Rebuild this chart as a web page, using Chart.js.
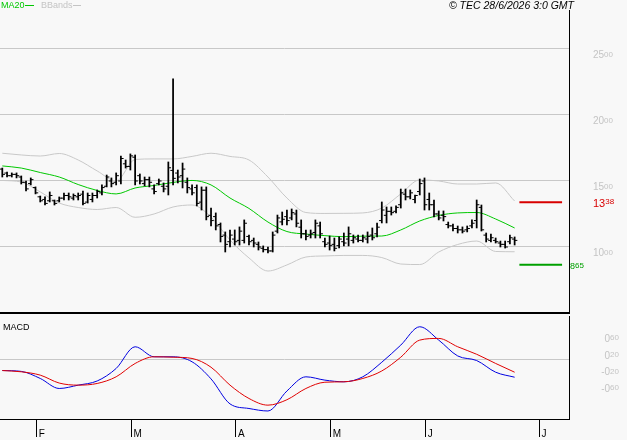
<!DOCTYPE html>
<html>
<head>
<meta charset="utf-8">
<title>TEC chart</title>
<script src="https://cdn.jsdelivr.net/npm/chart.js@4.4.1/dist/chart.umd.min.js"></script>
<style>
  html, body { margin: 0; padding: 0; background: #f8f8f8; }
  #wrap { position: relative; width: 627px; height: 440px; overflow: hidden; }
  #priceChart { position: absolute; left: 0; top: 0; }
  #macdChart { position: absolute; left: 0; top: 316px; }
</style>
</head>
<body>
<div id="wrap">
  <canvas id="priceChart" width="627" height="316"></canvas>
  <canvas id="macdChart" width="627" height="124"></canvas>
</div>
<script>
// daily bars, one per trading day (index 0 = first bar shown)
const opens = [
  15.9, 15.6, 15.4, 15.5, 15.3, 14.9, 14.8, 14.5, 13.8, 13.6,
  13.5, 13.5, 13.5, 13.7, 13.9, 13.7, 13.8, 14.0, 13.4, 13.6,
  13.9, 14.1, 14.6, 15.0, 14.9, 15.0, 16.3, 16.1, 16.8, 15.4,
  14.8, 15.1, 14.4, 14.8, 14.6, 14.6, 15.8, 15.6, 15.4, 14.9,
  14.4, 14.5, 13.4, 14.3, 12.4, 12.3, 11.7, 10.9, 10.4, 10.6,
  10.5, 10.5, 10.8, 10.5, 10.2, 9.9, 9.8, 9.7, 11.2, 11.9,
  12.3, 12.2, 12.5, 11.5, 11.0, 10.9, 11.1, 11.6, 10.4, 10.3,
  10.2, 10.1, 10.4, 10.6, 10.5, 10.6, 10.5, 10.6, 10.9, 11.0,
  12.0, 12.4, 12.7, 12.7, 13.2, 14.0, 13.8, 13.6, 14.2, 15.0,
  13.6, 13.2, 12.5, 12.4, 11.7, 11.6, 11.4, 11.3, 11.3, 11.6,
  12.0, 13.0, 10.9, 10.5, 10.5, 10.3, 10.2, 10.4, 10.6
];
const highs = [
  15.98, 15.68, 15.61, 15.61, 15.38, 15.00, 15.23, 14.55, 13.86, 13.79,
  14.17, 13.56, 13.79, 14.09, 14.09, 14.02, 14.09, 14.24, 14.09, 14.09,
  14.32, 14.70, 15.45, 15.23, 15.61, 16.89, 16.59, 17.05, 16.97, 15.53,
  15.30, 15.30, 14.70, 15.15, 14.85, 16.44, 22.73, 15.83, 16.36, 15.23,
  14.70, 14.70, 14.55, 14.55, 12.95, 12.58, 11.82, 11.14, 11.29, 11.29,
  11.52, 12.05, 10.91, 10.68, 10.38, 10.08, 10.00, 11.14, 12.42, 12.65,
  12.80, 12.88, 12.80, 12.05, 11.29, 11.29, 12.05, 11.89, 10.68, 10.83,
  10.68, 10.76, 11.06, 11.52, 10.91, 10.91, 10.91, 11.14, 11.44, 11.82,
  13.41, 13.03, 13.03, 13.11, 14.39, 14.39, 14.32, 13.94, 15.15, 15.23,
  14.09, 13.56, 12.73, 12.73, 11.89, 11.74, 11.59, 11.52, 11.59, 12.05,
  13.56, 13.18, 11.06, 10.98, 10.68, 10.45, 10.45, 10.91, 10.76
];
const lows = [
  15.30, 15.30, 15.30, 15.23, 14.77, 14.24, 14.70, 14.02, 13.41, 13.18,
  13.41, 13.18, 13.41, 13.56, 13.56, 13.56, 13.56, 13.18, 13.33, 13.41,
  13.71, 13.94, 14.55, 14.55, 14.70, 14.77, 15.98, 15.83, 14.70, 14.77,
  14.62, 14.55, 14.02, 14.70, 14.17, 13.94, 14.70, 14.85, 14.47, 14.09,
  13.94, 13.11, 12.80, 12.05, 11.59, 11.29, 10.38, 9.62, 10.00, 10.15,
  10.15, 10.30, 10.15, 10.00, 9.77, 9.62, 9.55, 9.62, 11.06, 11.67,
  11.67, 12.05, 11.52, 10.68, 10.53, 10.68, 10.68, 10.68, 10.00, 9.77,
  9.70, 9.92, 10.08, 10.08, 10.30, 10.38, 10.38, 10.30, 10.53, 10.76,
  11.82, 11.82, 12.42, 12.58, 12.95, 13.56, 13.64, 13.33, 13.94, 12.80,
  12.80, 12.27, 12.05, 11.97, 11.44, 11.21, 11.06, 11.06, 11.14, 11.44,
  11.44, 11.21, 10.38, 10.38, 10.30, 10.00, 9.92, 10.23, 10.15
];
const closes = [
  15.5, 15.4, 15.5, 15.4, 14.9, 14.4, 15.1, 14.1, 13.5, 13.3,
  13.9, 13.3, 13.7, 13.9, 13.8, 13.9, 13.9, 13.3, 13.9, 13.9,
  14.2, 14.5, 15.3, 14.8, 15.4, 16.7, 16.1, 16.9, 15.0, 15.0,
  15.1, 14.9, 14.2, 15.0, 14.4, 16.0, 15.2, 15.3, 15.9, 14.5,
  14.1, 13.3, 14.3, 12.3, 12.0, 11.6, 10.8, 10.2, 10.9, 10.4,
  11.2, 11.8, 10.4, 10.3, 10.0, 9.8, 9.7, 10.9, 12.2, 12.1,
  12.0, 12.6, 11.8, 11.0, 10.8, 11.0, 11.8, 11.0, 10.2, 10.1,
  9.9, 10.6, 10.3, 11.0, 10.7, 10.5, 10.7, 10.8, 10.7, 11.5,
  12.8, 12.7, 12.6, 13.0, 14.1, 13.8, 14.1, 13.9, 14.8, 13.2,
  13.2, 12.5, 12.2, 12.3, 11.6, 11.4, 11.3, 11.2, 11.4, 11.8,
  13.2, 11.3, 10.6, 10.7, 10.4, 10.2, 10.0, 10.7, 10.5
];

// indicator lines, read every 4th bar
const lineIdx = [0, 4, 8, 12, 16, 20, 24, 28, 32, 36, 40, 44, 48, 52,
                 56, 60, 64, 68, 72, 76, 80, 84, 88, 92, 96, 100, 104, 108];
const ma20 = [16.14, 15.98, 15.64, 15.30, 14.73, 14.28, 14.02, 14.47, 14.66, 14.89, 15.04, 14.70, 13.71, 12.92,
              11.89, 11.17, 10.98, 10.86, 10.78, 10.82, 10.83, 11.29, 11.97, 12.39, 12.58, 12.61, 12.12, 11.44];
const bbUpper = [17.10, 16.97, 16.89, 17.08, 16.59, 15.76, 15.00, 16.63, 16.67, 16.67, 16.86, 17.10, 16.86, 16.59,
                 15.30, 13.71, 12.61, 12.54, 12.55, 12.58, 12.95, 14.02, 15.08, 15.00, 14.77, 14.77, 14.85, 13.48];
const bbLower = [15.04, 14.92, 14.17, 13.33, 12.99, 12.84, 12.99, 12.25, 12.50, 13.03, 13.18, 12.27, 10.53, 9.17,
                 8.18, 8.64, 9.24, 9.32, 9.36, 9.36, 9.20, 8.71, 8.67, 9.62, 10.19, 10.45, 9.66, 9.64];
const macdLine = [-0.27, -0.29, -0.46, -0.70, -0.62, -0.52, -0.22, 0.30, 0.06, 0.06, -0.06, -0.47, -1.07, -1.18,
                  -1.24, -0.76, -0.42, -0.50, -0.54, -0.42, -0.07, 0.34, 0.78, 0.46, 0.08, -0.03, -0.31, -0.43];
const signalLine = [-0.27, -0.30, -0.38, -0.57, -0.62, -0.58, -0.42, -0.10, 0.06, 0.05, 0.02, -0.19, -0.62, -0.94,
                    -1.10, -0.97, -0.70, -0.55, -0.54, -0.46, -0.28, 0.05, 0.46, 0.50, 0.30, 0.12, -0.10, -0.31];

const priceTicks = [10, 15, 20, 25];
const macdTicks = [0.6, 0.2, -0.2, -0.6];
const monthLabels = ['F', 'M', 'A', 'M', 'J', 'J'];
const monthStarts = [8, 28, 50, 70, 90, 114];   // bar index of first session of each month
const resistance = 13.38;
const support = 8.65;

// ---- styling ----
const X_MIN = -0.485, X_MAX = 119.46;
const TICK_SHIFT = 0.3;       // open / close tick offset from the bar
const MONTH_SHIFT = 0.75;     // month separator sits just before the first session
const LEVEL_SPAN = 9;
const GRID = '#c8c8c8';
const LABEL = '#c4c4c4';
const GREEN = '#00c800';
const DARK_GREEN = '#00a000';
const RED = '#d80000';
const BLUE = '#0000e0';
const FONT = '"Liberation Sans", Arial, sans-serif';

// "25" big + "00" small, tops aligned; cy = centre of the digits
function drawSplit(ctx, x, cy, v, color, big, small, align) {
  const a = Math.abs(v);
  const ip = Math.floor(a + 1e-9);
  const hi = (v < 0 ? '-' : '') + ip;
  const lo = String(Math.round((a - ip) * 100)).padStart(2, '0');
  ctx.fillStyle = color;
  ctx.textAlign = 'left';
  ctx.textBaseline = 'alphabetic';
  ctx.font = big + 'px ' + FONT;
  const wBig = ctx.measureText(hi).width;
  ctx.font = small + 'px ' + FONT;
  const wSmall = ctx.measureText(lo).width;
  const x0 = align === 'right' ? x - wBig - wSmall : x;
  const base = cy + 0.358 * big;
  ctx.font = big + 'px ' + FONT;
  ctx.fillText(hi, x0, base);
  ctx.font = small + 'px ' + FONT;
  ctx.fillText(lo, x0 + wBig, base - 0.716 * (big - small));
}

const priceDecor = {
  id: 'priceDecor',
  afterDraw(chart) {
    const { ctx } = chart;
    const y = chart.scales.y;
    ctx.save();
    priceTicks.forEach(v => drawSplit(ctx, 593, y.getPixelForValue(v) + 5.6, v, LABEL, 10, 8));
    drawSplit(ctx, 593, y.getPixelForValue(resistance) + 0.3, resistance, RED, 11, 8);
    drawSplit(ctx, 570, y.getPixelForValue(support) + 0.5, support, DARK_GREEN, 9, 8);

    // header: legend + copyright
    ctx.textBaseline = 'middle';
    ctx.font = '9px ' + FONT;
    ctx.textAlign = 'left';
    ctx.fillStyle = GREEN;
    ctx.fillText('MA20', 1, 6);
    ctx.fillStyle = LABEL;
    ctx.fillText('BBands', 41, 6);
    ctx.lineWidth = 1;
    ctx.strokeStyle = GREEN;
    ctx.beginPath(); ctx.moveTo(25, 5.5); ctx.lineTo(34, 5.5); ctx.stroke();
    ctx.strokeStyle = LABEL;
    ctx.beginPath(); ctx.moveTo(73, 5.5); ctx.lineTo(81, 5.5); ctx.stroke();
    ctx.fillStyle = '#000';
    ctx.font = 'italic 10.5px ' + FONT;
    ctx.textAlign = 'right';
    ctx.fillText('\u00A9 TEC 28/6/2026 3:0 GMT', 574, 6);
    ctx.restore();
  }
};

const macdDecor = {
  id: 'macdDecor',
  afterDraw(chart) {
    const { ctx } = chart;
    const y = chart.scales.y;
    ctx.save();
    macdTicks.forEach(v => drawSplit(ctx, 619, y.getPixelForValue(v) + 4, v, LABEL, 10, 8, 'right'));
    ctx.fillStyle = '#000';
    ctx.font = '9px ' + FONT;
    ctx.textAlign = 'left';
    ctx.textBaseline = 'middle';
    ctx.fillText('MACD', 3, 12);
    ctx.restore();
  }
};

const pts = (xs, ys) => xs.map((x, k) => ({ x, y: ys[k] }));
const lineSet = (data, color, order) => ({
  type: 'line', data, borderColor: color, borderWidth: 1, pointRadius: 0,
  cubicInterpolationMode: 'monotone', order
});
const tickSet = (vals, shift) => ({
  type: 'line', showLine: false, order: 0,
  data: vals.map((v, i) => ({ x: i + shift, y: v })),
  pointStyle: 'line', pointRadius: 1.3, pointBorderWidth: 1, pointBorderColor: '#000'
});

new Chart(document.getElementById('priceChart'), {
  type: 'line',
  data: {
    datasets: [
      lineSet(pts(lineIdx, bbUpper), GRID, 3),
      lineSet(pts(lineIdx, bbLower), GRID, 3),
      lineSet(pts(lineIdx, ma20), GREEN, 2),
      {
        type: 'bar', order: 0, backgroundColor: '#000', barThickness: 1.1,
        data: highs.map((h, i) => ({ x: i, y: [lows[i], h] }))
      },
      tickSet(opens, -TICK_SHIFT),
      tickSet(closes, TICK_SHIFT),
      {
        type: 'line', order: 1, borderColor: RED, borderWidth: 2, pointRadius: 0,
        data: [{ x: highs.length, y: resistance }, { x: highs.length + LEVEL_SPAN, y: resistance }]
      },
      {
        type: 'line', order: 1, borderColor: DARK_GREEN, borderWidth: 2, pointRadius: 0,
        data: [{ x: highs.length, y: support }, { x: highs.length + LEVEL_SPAN, y: support }]
      }
    ]
  },
  options: {
    responsive: false,
    animation: false,
    events: [],
    layout: { autoPadding: false, padding: { left: 0, right: 58, top: 10, bottom: 0 } },
    plugins: { legend: { display: false }, tooltip: { enabled: false } },
    scales: {
      x: {
        type: 'linear', min: X_MIN, max: X_MAX, offset: false,
        grid: { display: false }, ticks: { display: false },
        border: { display: true, color: '#000', width: 2 },
        afterFit: s => { s.height = 3; }
      },
      y: {
        position: 'right', min: 5, max: 27.95,
        afterBuildTicks: s => { s.ticks = priceTicks.map(v => ({ value: v })); },
        grid: { color: GRID, drawTicks: false },
        ticks: { display: false },
        border: { display: true, color: '#000', width: 1 },
        afterFit: s => { s.width = 0; }
      }
    }
  },
  plugins: [priceDecor]
});

new Chart(document.getElementById('macdChart'), {
  type: 'line',
  data: {
    datasets: [
      lineSet(pts(lineIdx, macdLine), BLUE, 2),
      lineSet(pts(lineIdx, signalLine), '#e00000', 1)
    ]
  },
  options: {
    responsive: false,
    animation: false,
    events: [],
    layout: { autoPadding: false, padding: { left: 0, right: 58, top: 0, bottom: 0 } },
    plugins: { legend: { display: false }, tooltip: { enabled: false } },
    scales: {
      x: {
        type: 'linear', min: X_MIN, max: X_MAX, offset: false,
        afterBuildTicks: s => { s.ticks = monthStarts.map(m => ({ value: m - MONTH_SHIFT })); },
        grid: { drawOnChartArea: false, drawTicks: true, tickLength: 18, color: '#000' },
        ticks: {
          autoSkip: false, maxRotation: 0, align: 'start', labelOffset: 2, padding: -9,
          color: '#000', font: { family: 'Liberation Sans', size: 10 },
          callback: (v, k) => monthLabels[k]
        },
        border: { display: true, color: '#000', width: 1 },
        afterFit: s => { s.height = 21; }
      },
      y: {
        position: 'right', min: -1.432, max: 1.038,
        afterBuildTicks: s => { s.ticks = [{ value: 0 }]; },
        grid: { color: GRID, drawTicks: false },
        ticks: { display: false },
        border: { display: true, color: '#000', width: 1 },
        afterFit: s => { s.width = 0; }
      }
    }
  },
  plugins: [macdDecor]
});
</script>
</body>
</html>
